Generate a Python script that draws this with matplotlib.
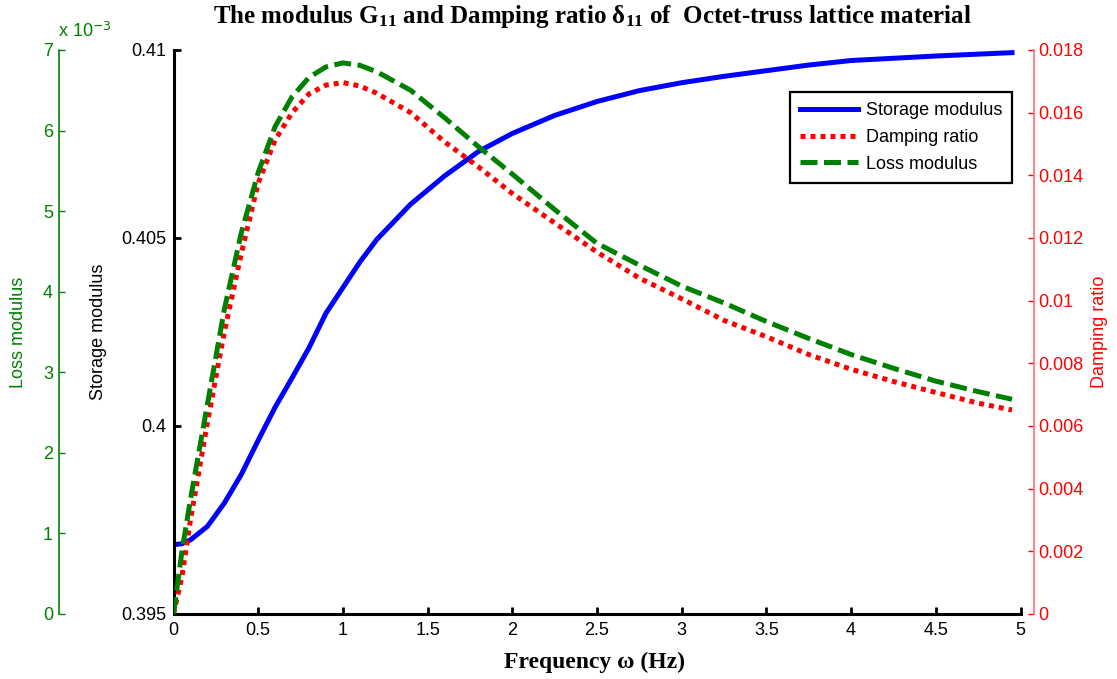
import matplotlib
matplotlib.use("Agg")
import matplotlib.pyplot as plt

plt.rcParams['font.family'] = ['Liberation Sans', 'DejaVu Sans']
plt.rcParams['mathtext.fontset'] = 'custom'
plt.rcParams['mathtext.rm'] = 'Liberation Serif:bold'
plt.rcParams['mathtext.bf'] = 'Liberation Serif:bold'
plt.rcParams['mathtext.it'] = 'Liberation Serif:bold'

# frequency (Hz)
freq = [0, 0.05, 0.1, 0.2, 0.3, 0.4, 0.5, 0.6, 0.7, 0.8, 0.9, 1.0, 1.1, 1.2, 1.4,
        1.6, 1.8, 2.0, 2.25, 2.5, 2.75, 3.0, 3.25, 3.5, 3.75, 4.0, 4.25, 4.5, 4.75, 4.95]

storage = [0.39684, 0.39687, 0.39697, 0.39733, 0.39795, 0.39871, 0.39962, 0.40050,
           0.40128, 0.40208, 0.40300, 0.40368, 0.40436, 0.40496, 0.40590, 0.40665,
           0.40730, 0.40778, 0.40826, 0.40863, 0.40892, 0.40913, 0.40930, 0.40945,
           0.40960, 0.40972, 0.40978, 0.40984, 0.40989, 0.40993]

# damping ratio (x 1e-3)
damping = [0.0, 1.2, 3.0, 6.1, 9.0, 11.5, 13.75, 15.13, 16.0, 16.6, 16.88, 16.96,
           16.85, 16.62, 16.0, 15.07, 14.27, 13.42, 12.48, 11.55, 10.72, 10.06,
           9.37, 8.85, 8.28, 7.81, 7.42, 7.07, 6.73, 6.51]

# loss modulus (x 1e-3)
loss = [0.0, 0.78, 1.42, 2.60, 3.78, 4.73, 5.48, 6.05, 6.42, 6.66, 6.79, 6.84, 6.81,
        6.73, 6.50, 6.16, 5.80, 5.46, 5.02, 4.60, 4.33, 4.07, 3.86, 3.63, 3.42, 3.22,
        3.05, 2.89, 2.76, 2.665]

x_ticks = [0, 0.5, 1, 1.5, 2, 2.5, 3, 3.5, 4, 4.5, 5]
storage_ticks = [0.395, 0.4, 0.405, 0.41]
damping_ticks = [0, 0.002, 0.004, 0.006, 0.008, 0.01, 0.012, 0.014, 0.016, 0.018]
loss_ticks = [0, 1, 2, 3, 4, 5, 6, 7]

GREEN = '#008000'
RED = '#ff0000'
FS = 13

fig = plt.figure(figsize=(11.17, 6.79), dpi=100)
ax = fig.add_axes([173.5 / 1117, 1 - 614 / 679, 847 / 1117, 564 / 679])

l1, = ax.plot(freq, storage, color='#0000ff', lw=3.6, label='Storage modulus')
ax.set_xlim(0, 5)
ax.set_ylim(0.395, 0.41)
ax.set_xticks(x_ticks)
ax.set_xticklabels([f'{v:g}' for v in x_ticks])
ax.set_yticks(storage_ticks)
ax.set_yticklabels([f'{v:g}' for v in storage_ticks])
ax.tick_params(direction='in', length=5, width=2, labelsize=FS, colors='black')
ax.tick_params(axis='y', pad=5)
ax.tick_params(axis='x', pad=6)
for s in ['top', 'right']:
    ax.spines[s].set_visible(False)
for s in ['left', 'bottom']:
    ax.spines[s].set_linewidth(2.2)
ax.set_ylabel('Storage modulus', fontsize=FS)
ax.yaxis.set_label_coords(-0.0785, 0.5)

# damping ratio axis (right)
ax2 = ax.twinx()
ax2.set_zorder(2)
ax2.patch.set_visible(False)
ax2.plot(freq, [v / 1000 for v in damping], color=RED, lw=3.6, ls=(0, (1, 1)))
ax2.set_ylim(0, 0.018)
ax2.set_yticks(damping_ticks)
ax2.set_yticklabels([f'{v:g}' for v in damping_ticks])
for s in ['top', 'left', 'bottom']:
    ax2.spines[s].set_visible(False)
ax2.spines['right'].set_position(('outward', 9.7))
ax2.spines['right'].set_color('#ff7070')
ax2.spines['right'].set_linewidth(1.2)
ax2.tick_params(direction='in', length=4, width=1, labelsize=FS, colors=RED, pad=3)
ax2.set_ylabel('Damping ratio', fontsize=FS, color=RED)
ax2.yaxis.set_label_coords(1.0832, 0.5)
l2 = matplotlib.lines.Line2D([], [], color=RED, lw=3.6, ls=(0, (1, 1)), label='Damping ratio')

# loss modulus axis (far left)
ax3 = ax.twinx()
ax3.set_zorder(3)
ax3.patch.set_visible(False)
l3, = ax3.plot(freq, [v / 1000 for v in loss], color=GREEN, lw=3.6, ls=(0, (3.4, 1.3)),
               label='Loss modulus')
ax3.set_ylim(0, 0.007)
ax3.set_yticks([v / 1000 for v in loss_ticks])
ax3.set_yticklabels([str(v) for v in loss_ticks])
ax3.yaxis.tick_left()
ax3.yaxis.set_label_position('left')
for s in ['top', 'right', 'bottom']:
    ax3.spines[s].set_visible(False)
ax3.spines['left'].set_visible(True)
ax3.spines['left'].set_position(('outward', 82.8))
ax3.spines['left'].set_color(GREEN)
ax3.spines['left'].set_linewidth(1.2)
ax3.tick_params(direction='in', length=4, width=1, labelsize=FS, colors=GREEN, pad=4)
ax3.set_ylabel('Loss modulus', fontsize=FS, color=GREEN)
ax3.yaxis.set_label_coords(-0.173, 0.5)
ax3.text(-0.1364, 1.016, r'x 10$^{\mathsf{-3}}$', transform=ax3.transAxes,
         fontsize=FS, color=GREEN, ha='left', va='bottom')

leg = ax3.legend(handles=[l1, l2, l3], loc='upper right',
                 bbox_to_anchor=(1012 / 1117, 1 - 92 / 679), bbox_transform=fig.transFigure,
                 fontsize=FS, fancybox=False, framealpha=1, edgecolor='black',
                 handlelength=3.2, handletextpad=0.45, borderpad=0.55, labelspacing=0.55,
                 borderaxespad=0)
leg.get_frame().set_linewidth(1.6)

fig.text(592 / 1117, 1 - 23 / 679,
         r'The modulus G$_{\mathbf{11}}$ and Damping ratio δ$_{\mathbf{11}}$ of  Octet-truss lattice material',
         family='Liberation Serif', weight='bold', fontsize=18, ha='center', va='baseline')
fig.text(595 / 1117, 1 - 668 / 679, 'Frequency ω (Hz)', family='Liberation Serif',
         weight='bold', fontsize=17, ha='center', va='baseline')

fig.savefig('out.png', dpi=100, facecolor='white')
